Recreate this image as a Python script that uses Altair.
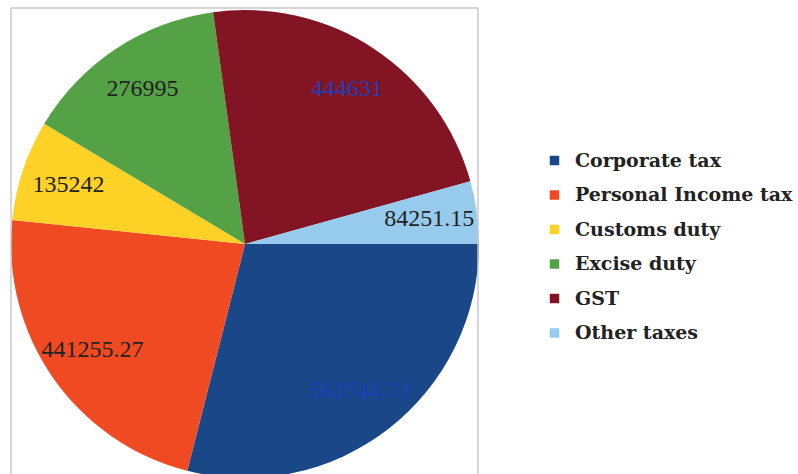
import math
import altair as alt
import pandas as pd

# Tax revenue components
categories = ["Corporate tax", "Personal Income tax", "Customs duty",
              "Excise duty", "GST", "Other taxes"]
values = [563744.73, 441255.27, 135242, 276995, 444631, 84251.15]
labels = ["563744.73", "441255.27", "135242", "276995", "444631", "84251.15"]
colors = ["#1a4787", "#f04a22", "#fdd125", "#55a146", "#821423", "#97cbed"]

df = pd.DataFrame({
    "category": categories,
    "value": values,
    "label": labels,
    "order": list(range(len(categories))),
})

W, H = 467, 466
R = 234
CX, CY = 234, 236

# Slices start at 3 o'clock and run clockwise
theta = alt.Theta("value:Q", stack=True,
                  scale=alt.Scale(range=[math.pi / 2, math.pi / 2 + 2 * math.pi]))

base = alt.Chart(df).encode(
    theta=theta,
    order=alt.Order("order:Q", sort="ascending"),
)

pie = base.mark_arc(outerRadius=R, stroke=None).encode(
    x=alt.value(CX),
    y=alt.value(CY),
    color=alt.Color(
        "category:N",
        sort=categories,
        scale=alt.Scale(domain=categories, range=colors),
        legend=alt.Legend(
            title=None,
            orient="none",
            legendX=534,
            legendY=143,
            symbolType="square",
            symbolSize=90,
            symbolStrokeWidth=0,
            labelFont="DejaVu Serif",
            labelFontWeight="bold",
            labelFontSize=19,
            labelColor="#222222",
            labelOffset=11,
            rowPadding=14.5,
            labelLimit=400,
        ),
    ),
)

text = base.mark_text(radius=186, font="Liberation Serif", fontSize=24,
                      align="center", baseline="middle").encode(
    x=alt.value(CX),
    y=alt.value(CY),
    text="label:N",
    color=alt.condition(
        alt.FieldOneOfPredicate(field="category", oneOf=["Corporate tax", "GST"]),
        alt.value("#1c3fb8"),
        alt.value("#222222"),
    ),
)

# Light grey frame around the pie area (open at the bottom)
frame_df = pd.DataFrame({"k": [0]})
frame_left = alt.Chart(frame_df).mark_rule(color="#c8c8c8", strokeWidth=1.5).encode(
    x=alt.value(0), y=alt.value(0), y2=alt.value(H + 10))
frame_top = alt.Chart(frame_df).mark_rule(color="#c8c8c8", strokeWidth=1.5).encode(
    x=alt.value(0), x2=alt.value(W), y=alt.value(0))
frame_right = alt.Chart(frame_df).mark_rule(color="#c8c8c8", strokeWidth=1.5).encode(
    x=alt.value(W), y=alt.value(0), y2=alt.value(H + 10))

chart = alt.layer(pie, text, frame_left, frame_top, frame_right).properties(
    width=W,
    height=H,
    padding={"left": 11, "top": 8, "right": 798 - 11 - W, "bottom": 0},
    autosize=alt.AutoSizeParams(type="none"),
    background="white",
).configure_view(stroke=None)

chart.save("out.html", embed_options={"renderer": "svg", "actions": False})
